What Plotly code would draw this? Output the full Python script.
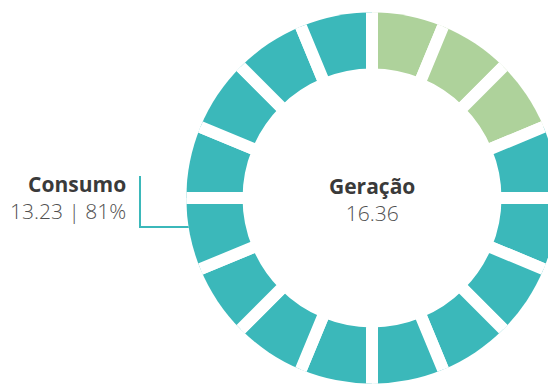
import plotly.graph_objects as go

# donut units: 16 blocks, first 3 = generation surplus (green), rest = consumption
units = ['u%d' % i for i in range(1, 17)]
unit_values = [1] * 16
unit_groups = ['Excedente'] * 3 + ['Consumo'] * 13
group_colors = {'Excedente': '#aed29b', 'Consumo': '#3bb8ba'}

total_label = 'Geração'
total_value = 16.36
consumo_label = 'Consumo'
consumo_value = 13.23
consumo_pct = 81

W, H = 556, 385
OFF = 8  # page body margin


def px(x):
    return (x - OFF) / W


def py(y):
    return 1 - (y - OFF) / H


theta = [11.25 + 22.5 * i for i in range(len(units))]

fig = go.Figure(
    go.Barpolar(
        r=[v * 0.5 for v in unit_values],
        base=0.665,
        theta=theta,
        width=[22.5] * len(units),
        marker=dict(color=[group_colors[g] for g in unit_groups],
                    line=dict(color='white', width=12)),
        hoverinfo='skip',
    )
)

fig.update_layout(
    width=W, height=H,
    margin={'l': 0, 'r': 0, 't': 0, 'b': 0},
    paper_bgcolor='white',
    showlegend=False,
    polar=dict(
        domain=dict(x=[0.3207, 0.9887], y=[0.0242, 0.9888]),
        bgcolor='white',
        radialaxis=dict(visible=False, range=[0, 1]),
        angularaxis=dict(visible=False, rotation=90, direction='clockwise'),
    ),
)

light = dict(family='Open Sans', size=21, color='#505050', weight=300)
bold_color = '#3a3a3a'

# center label
fig.add_annotation(x=px(372), y=py(200), xref='paper', yref='paper', xanchor='center',
                   align='center', showarrow=False, font=light,
                   text='<b><span style="color:%s">%s</span></b><br>%.2f'
                        % (bold_color, total_label, total_value))

# consumo label
fig.add_annotation(x=px(128), y=py(197), xref='paper', yref='paper', xanchor='right',
                   align='right', showarrow=False, font=light,
                   text='<b><span style="color:%s">%s</span></b><br>%.2f | %d%%'
                        % (bold_color, consumo_label, consumo_value, consumo_pct))

# leader line
fig.add_shape(type='path', xref='paper', yref='paper',
              path='M %f %f L %f %f L %f %f' % (px(140), py(176), px(140), py(227),
                                                px(192), py(227)),
              line=dict(color='#3bb8ba', width=2), layer='below')

fig.write_html('out.html')
